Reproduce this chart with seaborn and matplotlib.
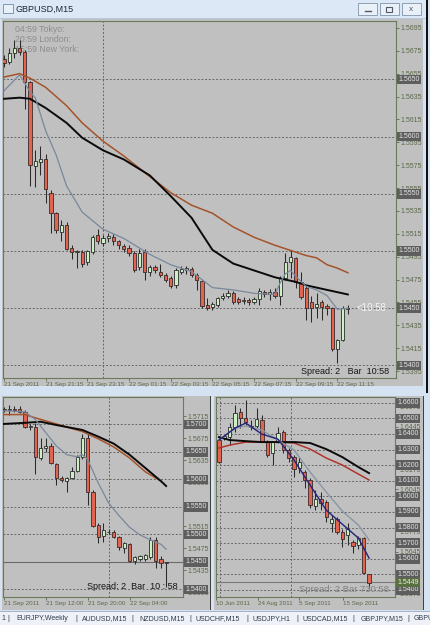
import numpy as np
import seaborn as sns
import matplotlib
matplotlib.use("Agg")
import matplotlib.pyplot as plt
from matplotlib.patches import Rectangle
from matplotlib.transforms import blended_transform_factory

# ---- GBPUSD M15 (top window) ----
top_open = [1.5668, 1.5665, 1.5673, 1.5677, 1.5674, 1.5648, 1.5574, 1.5578, 1.5580, 1.5551,
            1.5533, 1.5517, 1.5523, 1.5503, 1.5499, 1.5499, 1.5490, 1.5499, 1.5514, 1.5507,
            1.5511, 1.5512, 1.5509, 1.5504, 1.5503, 1.5498, 1.5486, 1.5499, 1.5482, 1.5486,
            1.5482, 1.5479, 1.5476, 1.5470, 1.5482, 1.5483, 1.5484, 1.5479, 1.5474, 1.5453,
            1.5451, 1.5453, 1.5459, 1.5461, 1.5463, 1.5458, 1.5456, 1.5457, 1.5455, 1.5458,
            1.5464, 1.5462, 1.5464, 1.5461, 1.5476, 1.5490, 1.5494, 1.5473, 1.5468, 1.5455,
            1.5451, 1.5455, 1.5452, 1.5450, 1.5414, 1.5422, 1.5449]
top_high = [1.5671, 1.5677, 1.5684, 1.5684, 1.5676, 1.5649, 1.5588, 1.5592, 1.5585, 1.5553,
            1.5534, 1.5527, 1.5525, 1.5505, 1.5501, 1.5501, 1.5501, 1.5514, 1.5519, 1.5514,
            1.5516, 1.5515, 1.5510, 1.5506, 1.5505, 1.5500, 1.5502, 1.5502, 1.5488, 1.5488,
            1.5489, 1.5481, 1.5478, 1.5485, 1.5487, 1.5487, 1.5486, 1.5481, 1.5475, 1.5459,
            1.5455, 1.5460, 1.5463, 1.5466, 1.5465, 1.5460, 1.5460, 1.5459, 1.5460, 1.5468,
            1.5466, 1.5467, 1.5468, 1.5478, 1.5498, 1.5501, 1.5495, 1.5482, 1.5470, 1.5461,
            1.5463, 1.5457, 1.5454, 1.5451, 1.5423, 1.5452, 1.5453]
top_low = [1.5661, 1.5663, 1.5669, 1.5671, 1.5624, 1.5557, 1.5556, 1.5566, 1.5542, 1.5516,
           1.5516, 1.5509, 1.5501, 1.5493, 1.5485, 1.5486, 1.5488, 1.5497, 1.5506, 1.5504,
           1.5508, 1.5505, 1.5502, 1.5499, 1.5496, 1.5482, 1.5483, 1.5475, 1.5478, 1.5481,
           1.5477, 1.5473, 1.5468, 1.5468, 1.5480, 1.5480, 1.5477, 1.5466, 1.5450, 1.5448,
           1.5448, 1.5451, 1.5457, 1.5459, 1.5454, 1.5454, 1.5454, 1.5453, 1.5454, 1.5453,
           1.5460, 1.5457, 1.5459, 1.5453, 1.5475, 1.5476, 1.5468, 1.5458, 1.5440, 1.5438,
           1.5441, 1.5440, 1.5444, 1.5413, 1.5402, 1.5421, 1.5445]
top_close = [1.5664, 1.5673, 1.5677, 1.5674, 1.5648, 1.5575, 1.5579, 1.5580, 1.5554, 1.5533,
             1.5518, 1.5523, 1.5502, 1.5499, 1.5500, 1.5489, 1.5500, 1.5512, 1.5509, 1.5511,
             1.5513, 1.5509, 1.5505, 1.5502, 1.5498, 1.5483, 1.5498, 1.5482, 1.5486, 1.5483,
             1.5479, 1.5475, 1.5469, 1.5483, 1.5484, 1.5485, 1.5479, 1.5475, 1.5452, 1.5450,
             1.5454, 1.5459, 1.5461, 1.5463, 1.5455, 1.5455, 1.5457, 1.5455, 1.5458, 1.5465,
             1.5462, 1.5464, 1.5461, 1.5476, 1.5490, 1.5495, 1.5473, 1.5460, 1.5450, 1.5450,
             1.5454, 1.5451, 1.5450, 1.5414, 1.5422, 1.5450, 1.5450]
top_slow_idx = [0, 3, 5, 8, 12, 15, 19, 23, 28, 32, 36, 40, 44, 48, 52, 54, 56, 58, 60, 62, 64, 66]
top_ma_brown = [1.5652, 1.5655, 1.5651, 1.5643, 1.5627, 1.5612, 1.5596, 1.5583, 1.5565, 1.5551, 1.5540,
                1.5533, 1.5521, 1.5512, 1.5505, 1.5502, 1.5499, 1.5496, 1.5494, 1.5488, 1.5485, 1.5481]
top_ma_black = [1.5633, 1.5634, 1.5633, 1.5625, 1.5612, 1.5599, 1.5588, 1.5580, 1.5566, 1.5548, 1.5529,
                1.5501, 1.5489, 1.5483, 1.5477, 1.5475, 1.5473, 1.5470, 1.5468, 1.5466, 1.5464, 1.5462]
top_fast_idx = [0, 3, 5, 6, 8, 10, 12, 15, 19, 23, 28, 32, 36, 40, 44, 48, 52, 53, 54, 55, 56, 58,
                60, 62, 63, 64, 66]
top_ma_fast = [1.5640, 1.5654, 1.5639, 1.5634, 1.5605, 1.5584, 1.5557, 1.5534, 1.5519, 1.5511, 1.5497,
               1.5488, 1.5482, 1.5468, 1.5466, 1.5463, 1.5462, 1.5472, 1.5480, 1.5483, 1.5478, 1.5469,
               1.5466, 1.5461, 1.5455, 1.5449, 1.5450]
top_yticks = [1.5395, 1.5415, 1.5435, 1.5455, 1.5475, 1.5495, 1.5515, 1.5535, 1.5555, 1.5575,
              1.5595, 1.5615, 1.5635, 1.5655, 1.5675, 1.5695]
top_levels = [1.5650, 1.5600, 1.5550, 1.5500, 1.5450, 1.5400]
top_xlabels = ["21 Sep 2011", "21 Sep 21:15", "21 Sep 23:15", "22 Sep 01:15", "22 Sep 03:15",
               "22 Sep 05:15", "22 Sep 07:15", "22 Sep 09:15", "22 Sep 11:15"]
top_xlabel_idx = [0, 8, 16, 24, 32, 40, 48, 56, 64]

# ---- bottom-left window (H1) ----
bl_open = [1.5727, 1.5727, 1.5728, 1.5729, 1.5723, 1.5695, 1.5696, 1.5639, 1.5658, 1.5661,
           1.5628, 1.5603, 1.5597, 1.5603, 1.5616, 1.5641, 1.5676, 1.5577, 1.5517, 1.5497,
           1.5504, 1.5504, 1.5495, 1.5475, 1.5482, 1.5451, 1.5455, 1.5455, 1.5459, 1.5490,
           1.5455, 1.5448]
bl_high = [1.5731, 1.5736, 1.5733, 1.5733, 1.5727, 1.5701, 1.5703, 1.5676, 1.5675, 1.5667,
           1.5630, 1.5606, 1.5604, 1.5623, 1.5645, 1.5683, 1.5683, 1.5580, 1.5520, 1.5521,
           1.5510, 1.5508, 1.5497, 1.5486, 1.5484, 1.5460, 1.5462, 1.5464, 1.5495, 1.5495,
           1.5460, 1.5450]
bl_low = [1.5723, 1.5718, 1.5723, 1.5721, 1.5694, 1.5690, 1.5610, 1.5636, 1.5650, 1.5628,
          1.5590, 1.5596, 1.5577, 1.5601, 1.5613, 1.5638, 1.5554, 1.5513, 1.5484, 1.5486,
          1.5500, 1.5494, 1.5472, 1.5466, 1.5449, 1.5446, 1.5452, 1.5451, 1.5455, 1.5439,
          1.5439, 1.5404]
bl_close = [1.5728, 1.5728, 1.5727, 1.5723, 1.5696, 1.5698, 1.5641, 1.5658, 1.5661, 1.5630,
            1.5603, 1.5599, 1.5603, 1.5616, 1.5641, 1.5676, 1.5577, 1.5515, 1.5495, 1.5508,
            1.5505, 1.5495, 1.5477, 1.5484, 1.5451, 1.5459, 1.5460, 1.5462, 1.5490, 1.5451,
            1.5448, 1.5449]
bl_fast_idx = [0, 4, 6, 8, 10, 12, 14, 15, 16, 18, 20, 22, 24, 26, 28, 30, 31]
bl_ma_fast = [1.5725, 1.5723, 1.5709, 1.5685, 1.5661, 1.5645, 1.5641, 1.5645, 1.5636, 1.5594,
              1.5557, 1.5534, 1.5513, 1.5499, 1.5490, 1.5482, 1.5473]
bl_brown_idx = [0, 4, 6, 10, 15, 18, 21, 24, 27, 30]
bl_ma_brown = [1.5718, 1.5718, 1.5712, 1.5701, 1.5687, 1.5674, 1.5659, 1.5639, 1.5614, 1.5597]
bl_black_idx = [0, 4, 7, 10, 15, 18, 21, 24, 27, 30, 31]
bl_ma_black = [1.5701, 1.5703, 1.5705, 1.5699, 1.5690, 1.5678, 1.5665, 1.5645, 1.5621, 1.5597, 1.5588]
bl_yticks = [1.5395, 1.5435, 1.5475, 1.5515, 1.5555, 1.5595, 1.5635, 1.5675, 1.5715]
bl_levels = [1.5700, 1.5650, 1.5600, 1.5550, 1.5500, 1.5400]
bl_xlabels = ["21 Sep 2011", "21 Sep 12:00", "21 Sep 20:00", "22 Sep 04:00"]
bl_xlabel_idx = [0, 8, 16, 24]

# ---- bottom-right window ----
br_open = [1.6361, 1.6374, 1.6380, 1.6444, 1.6540, 1.6502, 1.6451, 1.6451, 1.6489, 1.6348,
           1.6278, 1.6348, 1.6412, 1.6297, 1.6252, 1.6181, 1.6156, 1.6105, 1.5938, 1.5983,
           1.5963, 1.5829, 1.5854, 1.5771, 1.5752, 1.5707, 1.5688, 1.5733, 1.5502]
br_high = [1.6374, 1.6393, 1.6470, 1.6585, 1.6566, 1.6617, 1.6489, 1.6566, 1.6520, 1.6361,
           1.6348, 1.6444, 1.6425, 1.6310, 1.6265, 1.6252, 1.6169, 1.6118, 1.6040, 1.6028,
           1.5976, 1.5880, 1.5867, 1.5790, 1.5829, 1.5720, 1.5745, 1.5740, 1.5505]
br_low = [1.6214, 1.6361, 1.6329, 1.6412, 1.6438, 1.6457, 1.6425, 1.6438, 1.6348, 1.6252,
          1.6201, 1.6340, 1.6278, 1.6220, 1.6124, 1.6150, 1.6053, 1.5925, 1.5912, 1.5912,
          1.5835, 1.5771, 1.5758, 1.5675, 1.5688, 1.5637, 1.5660, 1.5502, 1.5412]
br_close = [1.6220, 1.6387, 1.6444, 1.6534, 1.6502, 1.6476, 1.6444, 1.6496, 1.6348, 1.6265,
            1.6348, 1.6406, 1.6297, 1.6246, 1.6175, 1.6220, 1.6105, 1.5944, 1.5983, 1.5957,
            1.5867, 1.5854, 1.5771, 1.5726, 1.5790, 1.5682, 1.5733, 1.5508, 1.5444]
br_ma_idx = [0, 2, 5, 8, 11, 14, 17, 20, 23, 26, 28]
br_ma_black = [1.6380, 1.6361, 1.6354, 1.6348, 1.6348, 1.6348, 1.6342, 1.6303, 1.6252, 1.6188, 1.6149]
br_ma_red = [1.6310, 1.6329, 1.6348, 1.6348, 1.6348, 1.6342, 1.6303, 1.6246, 1.6201, 1.6143, 1.6105]
br_gray_idx = [0, 3, 5, 8, 11, 14, 17, 20, 23, 26, 28]
br_ma_gray = [1.6361, 1.6438, 1.6451, 1.6425, 1.6361, 1.6297, 1.6156, 1.6028, 1.5906, 1.5816, 1.5720]
br_ma_navy = [1.6361, 1.6438, 1.6470, 1.6399, 1.6367, 1.6233, 1.6072, 1.5912, 1.5822, 1.5733, 1.5604]
br_yticks = [1.5375, 1.5510, 1.5645, 1.5775, 1.5910, 1.6045, 1.6175, 1.6310, 1.6445, 1.6575]
br_levels = [1.6600, 1.6500, 1.6400, 1.6300, 1.6200, 1.6100, 1.6000, 1.5900, 1.5800, 1.5700,
             1.5600, 1.5500, 1.5400]
br_xlabels = ["10 Jun 2011", "24 Aug 2011", "5 Sep 2011", "15 Sep 2011"]
br_xlabel_idx = [-0.5, 7.3, 14.9, 23.1]

tabs = ["1", "EURJPY,Weekly", "AUDUSD,M15", "NZDUSD,M15", "USDCHF,M15", "USDJPY,H1",
        "USDCAD,M15", "GBPJPY,M15", "GBPU"]

# ------------------------------------------------------------------
W, H = 431, 625
fig = plt.figure(figsize=(W / 100, H / 100), dpi=100)
plt.rcParams['font.family'] = ['Liberation Sans', 'DejaVu Sans']

GRAY = '#c0c0c0'
FG = '#5a6a4a'
FRAME = '#d4e2f1'

bg = fig.add_axes([0, 0, 1, 1])
bg.set_xlim(0, W)
bg.set_ylim(H, 0)
bg.axis('off')


def rect(x, y, w, h, fc, ec='none', lw=0.0, z=1):
    bg.add_patch(Rectangle((x, y), w, h, facecolor=fc, edgecolor=ec, linewidth=lw, zorder=z))


def px_axes(x0, y0, x1, y1):
    return fig.add_axes([x0 / W, 1 - y1 / H, (x1 - x0) / W, (y1 - y0) / H])


# window chrome
rect(0, 0, W, H, FRAME, z=0)
rect(0, 0, 427, 19, '#dce8f6')
rect(0, 18, 427, 1, '#b8c8dc')
rect(3, 4, 10, 9, '#e8f0f8', ec='#6a8aaa', lw=0.6, z=2)
bg.text(16, 9.5, "GBPUSD,M15", fontsize=6.5, color='#1c2838', va='center', ha='left')
for bx in [358, 380, 402]:
    rect(bx, 3, 19, 12, '#eaf0f8', ec='#7f93ab', lw=0.6, z=2)
bg.plot([365, 371], [11, 11], color='#505a66', lw=1.0, zorder=3)
rect(386.5, 6.5, 6, 5, 'none', ec='#505a66', lw=0.8, z=3)
bg.text(411.5, 9.3, "x", fontsize=6, color='#505a66', ha='center', va='center', zorder=3)
rect(426.5, 0, 1.2, 393, '#101010')
rect(2, 19, 421, 367, GRAY)
rect(2, 396, 209, 214, GRAY)
rect(210, 396, 1.0, 214, '#404040')
rect(214, 396, 210, 214, GRAY)
rect(423.5, 396, 1.0, 214, '#404040')
rect(0, 611, W, 14, '#eef2f8')
rect(0, 611, W, 0.8, '#a8b4c4')

tab_x = [1, 16, 82, 139, 196, 253, 303, 361, 414]
sep_x = [8, 76, 132, 190, 247, 297, 353, 408]
for tx, lab in zip(tab_x, tabs):
    bg.text(tx, 618.5, lab, fontsize=5.0, color='#303a48', va='center', ha='left')
for sx in sep_x:
    bg.text(sx, 618.5, "|", fontsize=5.5, color='#303a48', va='center', ha='center')


def chart(px, x_first, x_step, o, h, l, c, ylim, yticks, levels, xlab_idx, xlabels):
    x0, y0, x1, y1 = px
    ax = px_axes(x0, y0, x1, y1)
    ax.set_facecolor(GRAY)
    ax.set_xlim((x0 - x_first) / x_step, (x1 - x_first) / x_step)
    ax.set_ylim(*ylim)
    o, h, l, c = map(np.asarray, (o, h, l, c))
    idx = np.arange(len(o))
    up = c >= o
    ax.vlines(idx, l, h, color='#2a2a2a', lw=0.75, zorder=3)
    ax.bar(idx[up], (c - o)[up], bottom=o[up], width=0.62, color='#ccefc4',
           edgecolor='#2a2a2a', linewidth=0.6, zorder=4)
    ax.bar(idx[~up], (o - c)[~up], bottom=c[~up], width=0.62, color='#e0644f',
           edgecolor='#3a2a2a', linewidth=0.6, zorder=4)
    for lv in levels:
        ax.axhline(lv, color='#555555', lw=0.6, ls=(0, (2.2, 2.2)), zorder=1)
    ax.yaxis.tick_right()
    ax.set_yticks(yticks)
    ax.set_yticklabels([f"{t:.4f}" for t in yticks])
    ax.set_xticks(xlab_idx)
    ax.set_xticklabels(xlabels, ha='left')
    ax.tick_params(axis='y', labelsize=5, colors=FG, length=2, pad=1.2, width=0.6)
    ax.tick_params(axis='x', labelsize=4.5, colors=FG, length=2, pad=1.2, width=0.6)
    for s in ax.spines.values():
        s.set_color('#6b7a5c')
        s.set_linewidth(0.8)
    trans = blended_transform_factory(ax.transAxes, ax.transData)
    off = 1 + 2.5 / (x1 - x0)
    for lv in levels:
        ax.text(off, lv, f"{lv:.4f}", transform=trans, fontsize=5, color='#e4e4e4',
                va='center', ha='left', clip_on=False, zorder=10,
                bbox=dict(boxstyle='square,pad=0.18', fc='#5e5e5e', ec='none'))
    return ax, trans, off


def ma(ax, xs, ys, color, lw):
    sns.lineplot(x=xs, y=ys, ax=ax, color=color, lw=lw, legend=False, zorder=6)


# top chart
ax1, tr1, off1 = chart((3, 21, 396, 378), 4, 5.21, top_open, top_high, top_low, top_close,
                       (1.5389, 1.5701), top_yticks, top_levels, top_xlabel_idx, top_xlabels)
ax1.axvline(19, color='#555555', lw=0.6, ls=(0, (2.2, 2.2)), zorder=1)
ma(ax1, top_slow_idx, top_ma_brown, '#a5532a', 1.1)
ma(ax1, top_slow_idx, top_ma_black, '#0a0a0a', 1.4)
ma(ax1, top_fast_idx, top_ma_fast, '#7a889c', 0.9)
for k, t in enumerate(["04:59 Tokyo:", "20:59 London:", "15:59 New York:"]):
    ax1.text(0.03, 1 - (9 + 9.5 * k) / 357, t, transform=ax1.transAxes, fontsize=6.3,
             color='#8e8e8e', va='center', ha='left', zorder=2)
ax1.text(67.6, 1.5450, "<10:58", fontsize=7, color='#f4f4f4', va='center', ha='left', zorder=8)
ax1.text(57, 1.5395, "Spread: 2   Bar  10:58", fontsize=6.5, color='#151515',
         va='center', ha='left', zorder=8)

# bottom-left chart
ax2, tr2, off2 = chart((3, 397, 183, 597), 4, 5.23, bl_open, bl_high, bl_low, bl_close,
                       (1.5386, 1.5750), bl_yticks, bl_levels, bl_xlabel_idx, bl_xlabels)
ax2.axvline(20, color='#555555', lw=0.6, ls=(0, (2.2, 2.2)), zorder=1)
ax2.axhline(1.5450, color='#6a6a6a', lw=0.8, zorder=1)
ax2.text(off2, 1.5450, "1.5450", transform=tr2, fontsize=5, color='#e4e4e4', va='center',
         ha='left', clip_on=False, zorder=10,
         bbox=dict(boxstyle='square,pad=0.18', fc='#5e5e5e', ec='none'))
ma(ax2, bl_brown_idx, bl_ma_brown, '#a5532a', 1.1)
ma(ax2, bl_black_idx, bl_ma_black, '#0a0a0a', 1.4)
ma(ax2, bl_fast_idx, bl_ma_fast, '#7a889c', 0.9)
ax2.text(15.8, 1.5405, "Spread: 2  Bar  10 : 58", fontsize=6.5, color='#151515',
         va='center', ha='left', zorder=8)

# bottom-right chart
ax3, tr3, off3 = chart((216, 397, 395, 597), 219, 5.36, br_open, br_high, br_low, br_close,
                       (1.5355, 1.6637), br_yticks, br_levels, br_xlabel_idx, br_xlabels)
for v in [0.2, 13.4]:
    ax3.axvline(v, color='#555555', lw=0.6, ls=(0, (2.2, 2.2)), zorder=1)
ax3.axhline(1.5449, color='#7a7a7a', lw=0.8, zorder=1)
ax3.text(off3, 1.5449, "1.5449", transform=tr3, fontsize=5, color='#e8f0e0', va='center',
         ha='left', clip_on=False, zorder=11,
         bbox=dict(boxstyle='square,pad=0.18', fc='#5a7040', ec='none'))
ma(ax3, br_ma_idx, br_ma_red, '#b0342c', 1.1)
ma(ax3, br_ma_idx, br_ma_black, '#0a0a0a', 1.4)
ma(ax3, br_gray_idx, br_ma_gray, '#8a96a4', 1.0)
ma(ax3, br_gray_idx, br_ma_navy, '#23237a', 1.0)
ax3.text(15.0, 1.5400, "Spread: 2 Bar 730:58", fontsize=6.8, color='#808080',
         va='center', ha='left', zorder=8)

fig.savefig("out.png", dpi=100)
